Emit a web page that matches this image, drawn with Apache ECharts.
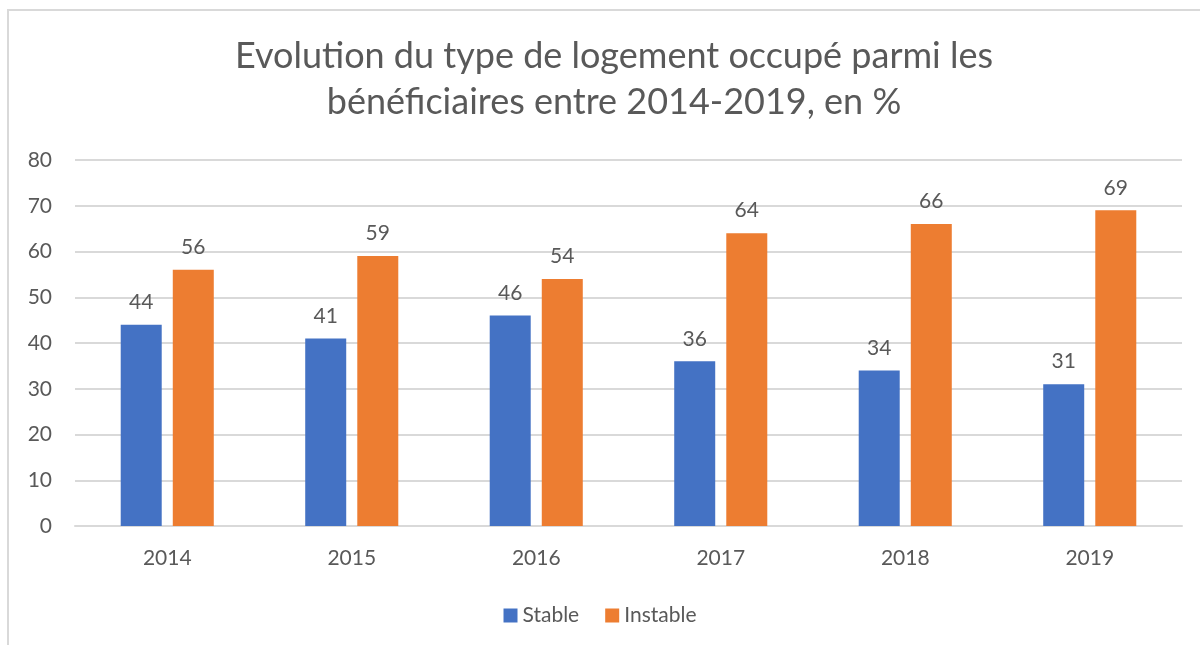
<!DOCTYPE html>
<html lang="fr">
<head>
<meta charset="UTF-8">
<title>Evolution du type de logement</title>
<script src="https://cdn.jsdelivr.net/npm/echarts@6/dist/echarts.min.js"></script>
<style>
  html, body { margin: 0; padding: 0; background: #fff; }
</style>
</head>
<body>
<div id="chart" style="width:1200px;height:645px;"></div>
<script>
// données
var years = ['2014', '2015', '2016', '2017', '2018', '2019'];
var stable = [44, 41, 46, 36, 34, 31];
var instable = [56, 59, 54, 64, 66, 69];

var font = 'Lato, "Open Sans", sans-serif';
var grey = '#595959';

var myChart = echarts.init(document.getElementById('chart'));

function labelOpt() {
    return { show: true, position: 'top', distance: 12, color: grey, fontSize: 21, fontFamily: font };
}

var option = {
    animation: false,
    title: {
        text: 'Evolution du type de logement occupé parmi les\nbénéficiaires entre 2014-2019, en %',
        left: 609, top: 28, textAlign: 'center',
        textStyle: { color: grey, fontSize: 36, fontWeight: 'normal', fontFamily: font, lineHeight: 46 }
    },
    graphic: [{
        type: 'polyline',
        shape: { points: [[8, 645], [8, 10], [1200, 10]] },
        style: { stroke: '#d9d9d9', lineWidth: 2, fill: null }
    }],
    legend: {
        bottom: 14, left: 'center',
        itemWidth: 14, itemHeight: 14, itemGap: 26,
        icon: 'rect',
        textStyle: { color: grey, fontSize: 21, fontFamily: font },
        data: ['Stable', 'Instable']
    },
    grid: { left: 75, right: 18, top: 160, bottom: 119 },
    xAxis: {
        type: 'category',
        data: years,
        axisLine: { lineStyle: { color: '#d9d9d9', width: 2 } },
        axisTick: { show: false },
        axisLabel: { color: grey, fontSize: 21, fontFamily: font, margin: 22 }
    },
    yAxis: {
        type: 'value',
        min: 0, max: 80, interval: 10,
        axisLine: { show: false },
        axisTick: { show: false },
        splitLine: { lineStyle: { color: '#d9d9d9', width: 2 } },
        axisLabel: { color: grey, fontSize: 21, fontFamily: font, margin: 23 }
    },
    series: [
        {
            name: 'Stable', type: 'bar', data: stable,
            barWidth: 41, barGap: '27%',
            itemStyle: { color: '#4472C4' },
            label: labelOpt()
        },
        {
            name: 'Instable', type: 'bar', data: instable,
            barWidth: 41,
            itemStyle: { color: '#ED7D31' },
            label: labelOpt()
        }
    ]
};

myChart.setOption(option);
</script>
</body>
</html>
